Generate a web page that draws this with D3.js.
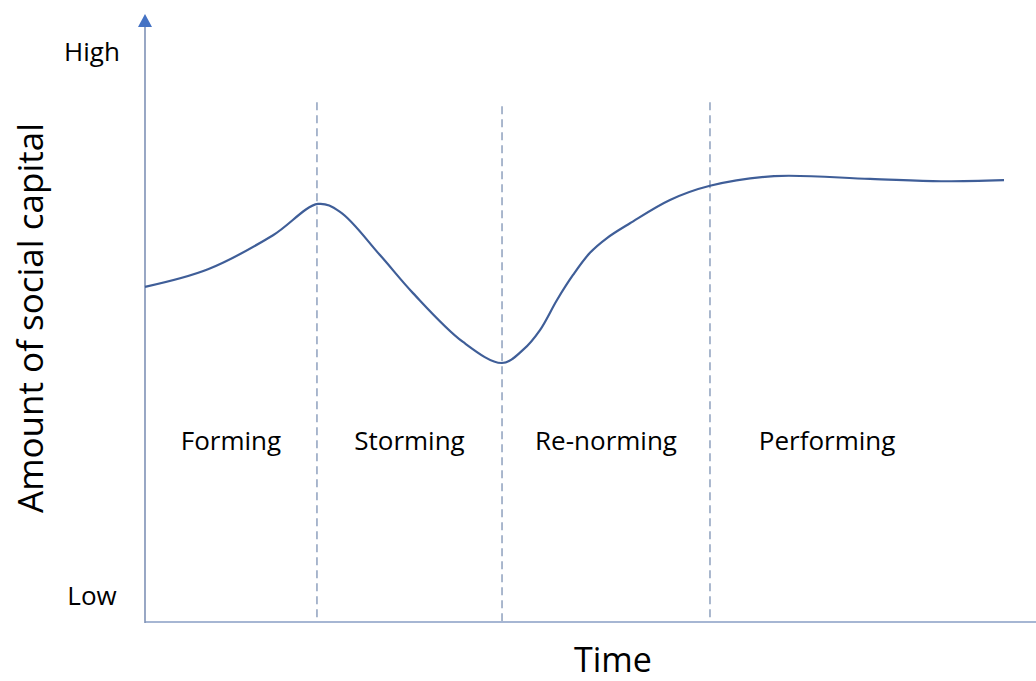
<!DOCTYPE html>
<html>
<head>
<meta charset="utf-8">
<script src="https://cdn.jsdelivr.net/npm/d3@7"></script>
<style>
  body { margin: 0; background: #fff; }
  text { font-family: "Open Sans", "Noto Sans", sans-serif; fill: #000; }
</style>
</head>
<body>
<div id="chart"></div>
<script>
// time (0-100) vs social capital (0 = Low, 100 = High)
const curveTime = [0, 7.07, 14.37, 19.42, 21.89, 26.37, 30.08, 35.69, 40.07, 42.42, 44.33, 46.24, 48.04, 49.94, 51.85, 54.43, 58.92, 63.41, 70.59, 81.37, 89.34, 96.41];
const curveValue = [59.0, 62.1, 68.1, 73.6, 72.2, 64.6, 57.9, 49.3, 45.6, 47.9, 51.4, 56.7, 61.1, 65.0, 67.6, 70.2, 74.3, 76.8, 78.5, 78.0, 77.6, 77.8];
const phaseNames = ["Forming", "Storming", "Re-norming", "Performing"];
const phaseEdges = [0, 19.3, 40.07, 63.41, 89.7];
const dividerTops = [91.5, 90.8, 91.5];
const levelLabels = ["Low", "High"];

const w = 1036, h = 681;
const svg = d3.select("#chart").append("svg").attr("width", w).attr("height", h);

const x = d3.scaleLinear().domain([0, 100]).range([145, 1036]);
const y = d3.scaleLinear().domain([0, 100]).range([622, 54]);

// dashed dividers between phases
svg.selectAll(".divider")
  .data(phaseEdges.slice(1, 4))
  .enter().append("line")
  .attr("class", "divider")
  .attr("x1", d => x(d)).attr("x2", d => x(d))
  .attr("y1", (d, i) => y(dividerTops[i])).attr("y2", y(0))
  .attr("stroke", "#7d92b4").attr("stroke-width", 1.3)
  .attr("stroke-dasharray", "8,5");

// axes
svg.append("line")
  .attr("x1", x(0)).attr("x2", x(100)).attr("y1", y(0)).attr("y2", y(0))
  .attr("stroke", "#a6b6d3").attr("stroke-width", 2);
svg.append("line")
  .attr("x1", x(0)).attr("x2", x(0)).attr("y1", y(0) + 1).attr("y2", 24)
  .attr("stroke", "#7f92b6").attr("stroke-width", 1.6);
svg.append("path")
  .attr("d", `M${x(0)},14 L${x(0) - 7},27 L${x(0) + 7},27 Z`)
  .attr("fill", "#4472c4");

// curve
const pts = curveTime.map((t, i) => [t, curveValue[i]]);
svg.append("path")
  .datum(pts)
  .attr("fill", "none")
  .attr("stroke", "#3f5e98").attr("stroke-width", 2.2)
  .attr("d", d3.line().x(d => x(d[0])).y(d => y(d[1])).curve(d3.curveCatmullRom.alpha(0.5)));

// phase labels
svg.selectAll(".phase")
  .data(phaseNames)
  .enter().append("text")
  .attr("class", "phase")
  .attr("x", (d, i) => x((phaseEdges[i] + phaseEdges[i + 1]) / 2))
  .attr("y", y(31.9))
  .attr("dy", "0.35em")
  .attr("text-anchor", "middle")
  .style("font-size", "26px")
  .text(d => d);

// Low / High
svg.selectAll(".level")
  .data(levelLabels)
  .enter().append("text")
  .attr("class", "level")
  .attr("x", 92)
  .attr("y", (d, i) => i === 0 ? 596 : 52)
  .attr("dy", "0.35em")
  .attr("text-anchor", "middle")
  .style("font-size", "26px")
  .text(d => d);

// axis titles
svg.append("text")
  .attr("transform", "translate(31,318) rotate(-90)")
  .attr("text-anchor", "middle")
  .attr("dy", "0.35em")
  .style("font-size", "35px")
  .text("Amount of social capital");
svg.append("text")
  .attr("x", 613).attr("y", 672)
  .attr("text-anchor", "middle")
  .style("font-size", "34px")
  .text("Time");
</script>
</body>
</html>
